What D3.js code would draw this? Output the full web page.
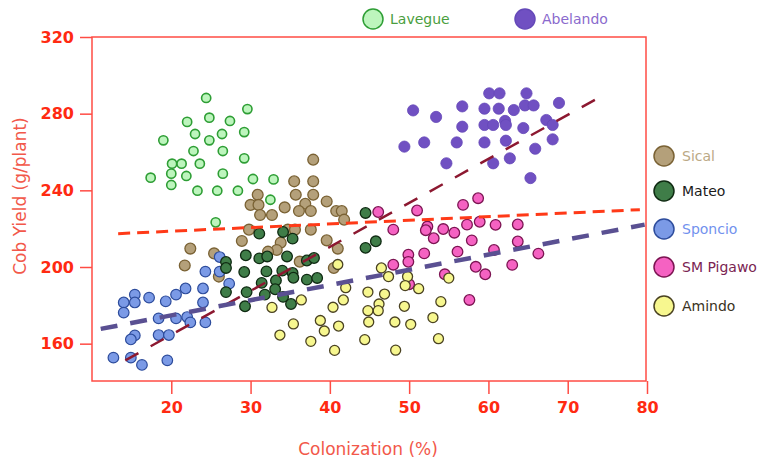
<!DOCTYPE html>
<html lang="en">
<head>
<meta charset="UTF-8">
<title>Cob Yield vs Colonization</title>
<script src="https://d3js.org/d3.v7.min.js"></script>
<style>
  body { margin: 0; background: #fff; font-family: "DejaVu Sans", Verdana, sans-serif; }
  svg { display: block; }
</style>
</head>
<body>
<svg width="765" height="459"></svg>
<script>
// series values [colonization %, cob yield g/plant]
const lavegue = [[24.4,288.2],[29.6,282.4],[22.0,275.7],[24.8,277.9],[27.4,276.2],[23.0,269.4],[26.4,269.4],[29.2,270.4],
  [19.0,266.1],[24.8,266.1],[22.8,260.5],[26.5,260.5],[29.2,256.7],[20.1,253.9],[21.3,253.9],[23.6,253.9],[20.0,248.7],
  [21.9,247.5],[26.5,248.7],[17.4,246.6],[20.0,242.8],[23.3,239.8],[25.8,239.8],[28.4,239.8],[30.3,245.9],[32.9,245.7],
  [32.5,235.1],[25.6,223.3]];
const abelando = [[60.1,290.6],[61.4,290.6],[64.8,290.6],[50.5,281.7],[53.4,278.3],[56.7,283.8],[59.5,282.6],[61.3,282.6],
  [63.2,281.9],[64.6,284.3],[65.7,284.3],[68.9,285.6],[56.7,273.2],[59.5,274.1],[60.6,274.1],[62.1,276.2],[62.2,274.1],
  [64.4,272.5],[67.3,276.7],[68.1,274.1],[49.4,262.8],[51.9,265.0],[56.0,265.0],[59.5,265.0],[62.2,265.9],[68.1,266.6],
  [65.9,261.7],[54.7,254.1],[60.6,254.1],[62.7,256.7],[65.3,246.4]];
const sical = [[37.9,256.0],[35.5,244.7],[37.9,244.7],[30.9,237.7],[35.7,237.7],[37.9,237.7],[30.0,232.4],[31.0,232.4],
  [34.3,231.1],[36.9,233.0],[39.6,234.2],[31.2,227.1],[32.7,227.1],[36.1,229.2],[37.6,229.2],[40.8,229.2],[41.5,229.2],
  [41.8,224.7],[29.8,219.5],[34.7,219.5],[35.6,219.5],[37.6,219.5],[28.9,213.6],[33.8,212.7],[33.3,208.9],[32.2,208.0],
  [39.6,213.9],[41.0,209.6],[22.4,209.6],[25.4,207.1],[21.7,200.8],[36.2,202.8],[26.0,195.0],[40.5,199.5]];
const sponcio = [[26.1,205.2],[24.3,197.6],[26.1,197.6],[27.3,191.3],[21.8,188.8],[24.0,188.8],[20.6,185.6],[19.3,182.1],
  [17.2,184.0],[15.4,185.6],[15.4,181.5],[14.0,181.5],[24.0,181.5],[14.0,176.2],[18.4,173.2],[20.6,173.2],[22.0,173.9],
  [22.4,171.1],[24.3,171.1],[15.4,164.3],[14.9,162.2],[18.4,164.5],[19.7,164.5],[12.7,152.7],[14.9,152.7],[19.5,151.3],
  [16.3,148.9]];
const mateo = [[44.5,228.2],[44.5,210.0],[45.8,213.4],[31.1,217.4],[34.1,218.3],[35.3,214.8],[29.4,206.1],[31.1,204.5],
  [32.1,205.5],[34.6,205.5],[37.1,203.4],[38.0,204.7],[26.9,202.6],[26.9,199.5],[29.2,197.4],[32.0,197.7],[34.0,198.1],
  [35.3,196.9],[35.4,194.4],[37.1,193.4],[38.4,194.3],[33.2,193.0],[31.4,191.7],[26.9,186.9],[29.5,186.9],[33.1,188.4],
  [31.8,185.6],[34.1,184.4],[35.1,180.7],[29.3,179.5]];
const pigawo = [[46.1,228.7],[51.0,229.5],[48.0,219.5],[52.3,221.1],[52.1,219.2],[53.1,215.0],[54.3,219.8],[55.7,217.9],
  [57.3,222.1],[58.9,223.6],[60.9,222.0],[63.7,222.2],[63.7,213.3],[56.8,232.4],[58.7,235.9],[57.9,213.9],[51.9,207.1],
  [49.9,206.4],[49.9,202.7],[48.0,201.2],[56.1,208.0],[60.7,208.9],[66.3,207.0],[58.4,200.1],[59.6,196.2],[63.0,201.1],
  [54.5,196.2],[57.6,182.8],[50.0,191.0]];
const amindo = [[41.0,201.3],[46.5,199.5],[47.4,195.0],[49.8,195.0],[49.5,190.3],[51.2,188.7],[55.0,194.2],[42.0,189.2],
  [36.4,182.8],[41.7,182.8],[32.7,178.9],[40.4,179.0],[44.8,186.9],[46.9,185.9],[46.2,180.7],[46.1,177.2],[44.8,177.2],
  [49.4,179.5],[54.0,181.9],[35.4,170.3],[38.8,172.1],[39.3,166.6],[41.1,169.2],[44.9,171.3],[48.2,171.3],[50.2,170.1],
  [53.0,173.6],[33.7,164.5],[37.6,161.2],[44.4,162.1],[53.7,162.6],[40.6,156.5],[48.3,156.6]];

// dashed trend lines, end points
const trendFlat = [[13.3,217.4],[79.1,229.9]];
const trendSteep = [[14.2,151.3],[73.6,287.6]];
const trendLow = [[11.1,167.7],[79.7,222.1]];

const xTicks = [20, 30, 40, 50, 60, 70, 80];
const yTicks = [160, 200, 240, 280, 320];

const legendTop = ["Lavegue", "Abelando"];
const legendRight = ["Sical", "Mateo", "Sponcio", "SM Pigawo", "Amindo"];

const styles = {
  "Lavegue":   {fill: "#bdf5bd", stroke: "#2e9e35", text: "#4a9e3e", r: 4.6, sw: 1.6},
  "Abelando":  {fill: "#7050c2", stroke: "#6448b8", text: "#8a6acd", r: 5.6, sw: 0.8},
  "Sical":     {fill: "#b4a07a", stroke: "#7a6234", text: "#bba985", r: 5.4, sw: 1.3},
  "Mateo":     {fill: "#3f7d48", stroke: "#0f2a12", text: "#1a1a1a", r: 5.3, sw: 1.3},
  "Sponcio":   {fill: "#7b9ae6", stroke: "#2d4c9c", text: "#7292ee", r: 5.3, sw: 1.2},
  "SM Pigawo": {fill: "#f562c2", stroke: "#7c1452", text: "#7a2452", r: 5.3, sw: 1.3},
  "Amindo":    {fill: "#f7f78f", stroke: "#4a4222", text: "#3a3222", r: 5.0, sw: 1.3}
};

const svg = d3.select("svg");
const plotLeft = 92, plotRight = 646, plotTop = 37, plotBottom = 381;

const x = d3.scaleLinear().domain([10, 80]).range([plotLeft, 647]);
const y = d3.scaleLinear().domain([140, 320]).range([382, plotTop]);

const axisColor = "#ff4c44";
const tickColor = "#ff2a12";

// frame
svg.append("rect")
  .attr("x", plotLeft).attr("y", plotTop)
  .attr("width", plotRight - plotLeft).attr("height", plotBottom - plotTop)
  .attr("fill", "none").attr("stroke", axisColor).attr("stroke-width", 1.5);

// y axis
const yAxis = svg.append("g")
  .attr("transform", `translate(${plotLeft},0)`)
  .call(d3.axisLeft(y).tickValues(yTicks).tickSize(12).tickPadding(6));
yAxis.select(".domain").remove();
yAxis.selectAll("line").attr("stroke", axisColor).attr("stroke-width", 1.5);
yAxis.selectAll("text").attr("fill", tickColor)
  .style("font-size", "16px").style("font-weight", "bold")
  .style("font-family", "DejaVu Sans");

// x axis
const xAxis = svg.append("g")
  .attr("transform", `translate(0,${plotBottom})`)
  .call(d3.axisBottom(x).tickValues(xTicks).tickSize(13).tickPadding(8));
xAxis.select(".domain").remove();
xAxis.selectAll("line").attr("stroke", axisColor).attr("stroke-width", 1.5);
xAxis.selectAll("text").attr("fill", tickColor)
  .style("font-size", "16px").style("font-weight", "bold")
  .style("font-family", "DejaVu Sans");

// axis titles
svg.append("text")
  .attr("x", 368).attr("y", 455)
  .attr("text-anchor", "middle")
  .attr("fill", "#f2584a")
  .style("font-size", "17px")
  .text("Colonization (%)");

svg.append("text")
  .attr("transform", "translate(26,196) rotate(-90)")
  .attr("text-anchor", "middle")
  .attr("fill", "#f2584a")
  .style("font-size", "17px")
  .text("Cob Yield (g/plant)");

// points
const series = [
  ["Abelando", abelando], ["Lavegue", lavegue], ["Sical", sical], ["Sponcio", sponcio],
  ["Mateo", mateo], ["SM Pigawo", pigawo], ["Amindo", amindo]
];
series.forEach(([name, data]) => {
  const s = styles[name];
  svg.append("g").selectAll("circle")
    .data(data)
    .join("circle")
    .attr("cx", d => x(d[0]))
    .attr("cy", d => y(d[1]))
    .attr("r", s.r)
    .attr("fill", s.fill)
    .attr("stroke", s.stroke)
    .attr("stroke-width", s.sw);
});

// trend lines
const line = d3.line().x(d => x(d[0])).y(d => y(d[1]));
svg.append("path").datum(trendFlat).attr("d", line)
  .attr("stroke", "#ff3a18").attr("stroke-width", 3).attr("stroke-dasharray", "12,7").attr("fill", "none");
svg.append("path").datum(trendSteep).attr("d", line)
  .attr("stroke", "#8c1830").attr("stroke-width", 2.5).attr("stroke-dasharray", "15,14").attr("fill", "none");
svg.append("path").datum(trendLow).attr("d", line)
  .attr("stroke", "#5a5092").attr("stroke-width", 4.5).attr("stroke-dasharray", "17,13").attr("fill", "none");

// legends
const topLeg = svg.append("g").selectAll("g")
  .data(legendTop)
  .join("g")
  .attr("transform", (d, i) => `translate(${[373, 525][i]},19)`);
topLeg.append("circle").attr("r", 10)
  .attr("fill", d => styles[d].fill).attr("stroke", d => styles[d].stroke).attr("stroke-width", 1.5);
topLeg.append("text").attr("x", 17).attr("y", 5)
  .attr("fill", d => styles[d].text).style("font-size", "14px").text(d => d);

const rightLeg = svg.append("g").selectAll("g")
  .data(legendRight)
  .join("g")
  .attr("transform", (d, i) => `translate(664,${[156, 191, 229, 267, 306][i]})`);
rightLeg.append("circle").attr("r", 10)
  .attr("fill", d => styles[d].fill).attr("stroke", d => styles[d].stroke).attr("stroke-width", 1.5);
rightLeg.append("text").attr("x", 18).attr("y", 5)
  .attr("fill", d => styles[d].text).style("font-size", "14px").text(d => d);
</script>
</body>
</html>
